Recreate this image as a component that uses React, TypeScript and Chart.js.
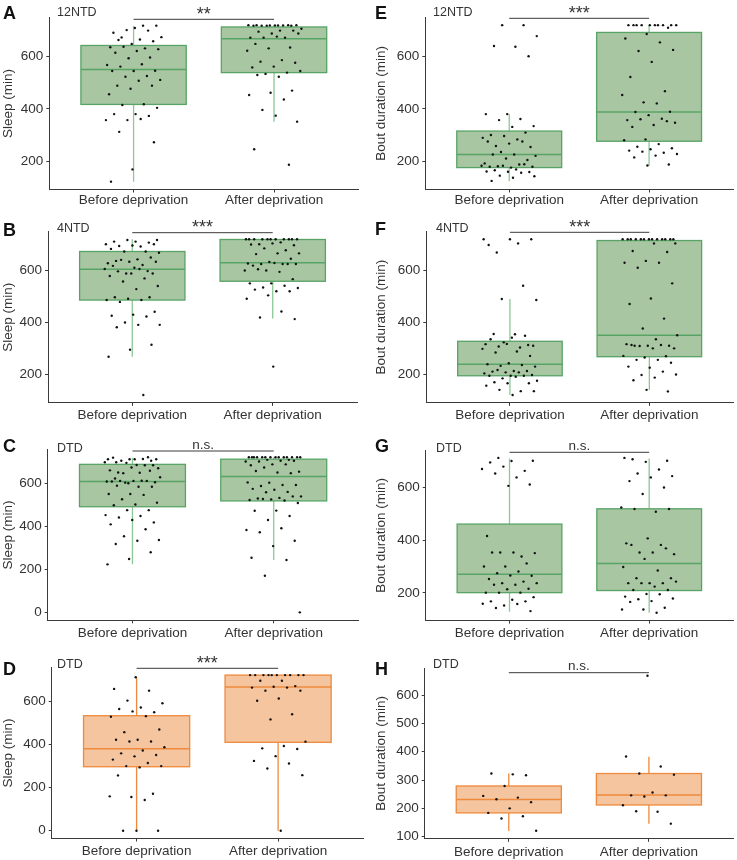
import React, { useEffect, useRef } from "react";
import { Chart, registerables } from "chart.js";

Chart.register(...registerables);

// ---------------- DATA ----------------
const categories = ["Before deprivation", "After deprivation"];
const sleepTitle = "Sleep (min)";
const boutTitle = "Bout duration (min)";

// Panel A – 12NTD, sleep
const aBefore = [719, 674, 719, 710, 692, 700, 702, 675, 666, 664, 659, 649, 636, 632, 638, 629, 622, 615, 597, 594, 568, 571, 562, 546, 545, 545, 526, 523, 511, 508, 489, 489, 477, 456, 418, 415, 404, 380, 380, 373, 357, 357, 361, 312, 272, 168, 121];
const aAfter = [720, 721, 719, 720, 721, 720, 719, 721, 720, 719, 721, 719, 707, 700, 696, 700, 689, 673, 673, 673, 689, 677, 649, 635, 632, 623, 587, 581, 577, 562, 559, 539, 534, 545, 523, 530, 470, 462, 453, 436, 396, 351, 374, 245, 186];
const aBoxBefore = [121, 417, 551, 643, 718]; // min, q1, median, q3, max
const aBoxAfter = [351, 539, 669, 714, 721];

// Panel E – 12NTD, bout duration
const eBefore = [721, 721, 679, 638, 641, 602, 380, 380, 361, 357, 334, 331, 300, 309, 296, 289, 283, 258, 254, 267, 275, 275, 235, 220, 225, 225, 204, 210, 191, 187, 180, 178, 175, 178, 188, 182, 182, 168, 165, 158, 159, 160, 155, 144, 142, 136, 124];
const eAfter = [721, 721, 721, 721, 721, 721, 721, 721, 721, 721, 711, 687, 670, 655, 622, 626, 580, 522, 468, 425, 453, 421, 388, 389, 376, 357, 362, 360, 347, 338, 331, 353, 283, 280, 265, 255, 249, 245, 240, 232, 236, 227, 221, 214, 187, 183];
const eBoxBefore = [123, 175, 225, 315, 380];
const eBoxAfter = [182, 276, 388, 693, 721];

// Panel B – 4NTD, sleep
const bBefore = [716, 710, 710, 706, 716, 700, 691, 693, 700, 695, 682, 672, 672, 667, 642, 636, 649, 633, 627, 620, 640, 633, 610, 617, 597, 588, 605, 605, 596, 588, 588, 578, 569, 557, 540, 528, 497, 497, 491, 486, 486, 479, 441, 430, 426, 423, 400, 391, 391, 382, 315, 296, 269, 122];
const bAfter = [719, 719, 719, 719, 719, 719, 719, 719, 719, 719, 719, 707, 700, 696, 703, 699, 677, 684, 665, 665, 662, 644, 632, 626, 624, 624, 624, 628, 618, 624, 599, 599, 594, 604, 566, 550, 550, 541, 534, 532, 520, 526, 520, 504, 491, 442, 419, 413, 231];
const bBoxBefore = [269, 486, 604, 672, 719];
const bBoxAfter = [415, 558, 629, 718, 719];

// Panel F – 4NTD, bout duration
const fBefore = [719, 703, 668, 719, 719, 697, 541, 490, 486, 355, 356, 314, 318, 317, 304, 308, 311, 342, 336, 349, 324, 299, 289, 285, 272, 244, 240, 237, 234, 231, 214, 212, 214, 209, 205, 209, 218, 199, 196, 196, 196, 186, 177, 192, 171, 167, 167, 158, 137, 142, 137, 122];
const fAfter = [719, 719, 719, 719, 719, 719, 719, 719, 719, 719, 719, 719, 719, 703, 703, 674, 670, 636, 629, 629, 610, 550, 492, 471, 415, 377, 351, 336, 311, 311, 311, 317, 314, 310, 301, 301, 314, 271, 266, 272, 257, 257, 246, 227, 231, 212, 199, 201, 189, 179, 136, 142];
const fBoxBefore = [122, 196, 240, 328, 490];
const fBoxAfter = [141, 269, 351, 714, 719];

// Panel C – DTD, sleep
const cBefore = [698, 705, 712, 712, 713, 705, 712, 712, 719, 721, 695, 698, 649, 650, 684, 673, 660, 684, 647, 670, 685, 622, 658, 600, 608, 612, 611, 605, 611, 608, 611, 603, 628, 584, 589, 584, 550, 550, 546, 526, 510, 501, 498, 475, 475, 452, 448, 441, 418, 429, 409, 386, 354, 336, 333, 318, 279, 248, 223];
const cAfter = [721, 721, 721, 721, 721, 721, 721, 721, 721, 721, 721, 721, 721, 721, 709, 709, 701, 705, 701, 705, 688, 684, 688, 673, 654, 650, 657, 647, 603, 604, 592, 587, 592, 570, 574, 560, 558, 539, 532, 529, 539, 525, 522, 520, 527, 508, 473, 472, 448, 429, 383, 391, 372, 333, 308, 254, 243, 170, 0];
const cBoxBefore = [223, 491, 608, 688, 719];
const cBoxAfter = [243, 518, 631, 712, 721];

// Panel G – DTD, bout duration
const gBefore = [712, 701, 700, 695, 663, 679, 670, 638, 653, 611, 606, 416, 338, 353, 351, 353, 353, 312, 300, 300, 281, 275, 265, 266, 253, 243, 237, 237, 231, 231, 216, 214, 201, 201, 201, 184, 174, 168, 168, 152, 159, 158, 143, 131];
const gAfter = [707, 701, 697, 712, 668, 653, 643, 638, 624, 600, 575, 524, 508, 518, 518, 407, 388, 382, 353, 347, 353, 382, 369, 329, 298, 285, 256, 256, 237, 237, 237, 237, 243, 224, 211, 211, 196, 186, 195, 176, 179, 169, 166, 144, 137, 137, 125];
const gBoxBefore = [129, 201, 271, 461, 710];
const gBoxAfter = [125, 209, 312, 519, 710];

// Panel D – DTD (orange), sleep
const dBefore = [710, 656, 648, 602, 590, 570, 563, 548, 552, 527, 530, 456, 468, 421, 421, 413, 413, 386, 371, 358, 350, 344, 329, 313, 299, 299, 293, 256, 171, 156, 159, 142, 0, 0, 0];
const dAfter = [720, 720, 720, 720, 720, 720, 720, 720, 720, 720, 694, 694, 669, 666, 662, 662, 648, 648, 612, 601, 539, 515, 412, 392, 381, 378, 345, 323, 311, 288, 257, 0];
const dBoxBefore = [0, 296, 379, 532, 708];
const dBoxAfter = [0, 409, 665, 720, 720];

// Panel H – DTD (orange), bout duration
const hBefore = [320, 323, 317, 279, 244, 238, 232, 222, 200, 184, 172, 164, 121];
const hAfter = [668, 383, 348, 323, 319, 256, 246, 246, 242, 211, 188, 190, 146];
const hBoxBefore = [120, 184, 231, 279, 323];
const hBoxAfter = [146, 212, 247, 323, 382];

// Tick labels
const ticks200to600 = [200, 400, 600];
const ticks0to600 = [0, 200, 400, 600];
const ticks100to600 = [100, 200, 300, 400, 500, 600];

// ---------------- STYLE ----------------
const FONT = '"Liberation Sans", Arial, Helvetica, sans-serif';
const TEXT = "#333333";
const AXIS = "#3a3a3a";
const GREEN = { fill: "#a8c6a2", border: "#58a466", whisker: "#8cc898" };
const ORANGE = { fill: "#f4c59f", border: "#ef8a3c", whisker: "#ef8a3c" };

type Scheme = typeof GREEN;
type PanelSpec = {
  key: string;
  letter: string;
  sub: string;
  sig: string;
  title: string;
  before: number[];
  after: number[];
  boxes: number[][];
  ticks: number[];
  yMin: number;
  yMax: number;
  scheme: Scheme;
  // layout (canvas-relative px)
  left: number;
  top: number;
  w: number;
  h: number;
  axisX: number;
  right: number;
  T: number;
  B: number;
  letterX: number;
  letterY: number;
  subX: number;
  subY: number;
  sigY: number;
  titlePad: number;
  labelPad: number;
};

const LEFT = { left: 0, w: 368, letterX: 3, subX: 57, titlePad: 0 };
const RIGHT = { left: 368, w: 369, letterX: 7, subX: 65, titlePad: 5 };

const panels: PanelSpec[] = [
  { key: "A", letter: "A", sub: "12NTD", sig: "**", title: sleepTitle, before: aBefore, after: aAfter, boxes: [aBoxBefore, aBoxAfter], ticks: ticks200to600, yMin: 91, yMax: 751, scheme: GREEN,
    ...LEFT, top: 0, h: 216, axisX: 49.3, right: 358.3, T: 17.3, B: 189.5, letterY: 19, subY: 15.7, sigY: 19.3, labelPad: 0 },
  { key: "E", letter: "E", sub: "12NTD", sig: "***", title: boutTitle, before: eBefore, after: eAfter, boxes: [eBoxBefore, eBoxAfter], ticks: ticks200to600, yMin: 91, yMax: 751, scheme: GREEN,
    ...RIGHT, top: 0, h: 216, axisX: 57.3, right: 368, T: 17.3, B: 189.5, letterY: 18.5, subY: 15.7, sigY: 18.3, labelPad: 0 },
  { key: "B", letter: "B", sub: "4NTD", sig: "***", title: sleepTitle, before: bBefore, after: bAfter, boxes: [bBoxBefore, bBoxAfter], ticks: ticks200to600, yMin: 92, yMax: 749, scheme: GREEN,
    ...LEFT, top: 210, h: 218, axisX: 48, right: 357, T: 21.4, B: 192.9, letterY: 25.5, subY: 21.7, sigY: 22.7, labelPad: 1 },
  { key: "F", letter: "F", sub: "4NTD", sig: "***", title: boutTitle, before: fBefore, after: fAfter, boxes: [fBoxBefore, fBoxAfter], ticks: ticks200to600, yMin: 92, yMax: 749, scheme: GREEN,
    ...RIGHT, top: 210, h: 218, axisX: 58.3, right: 368, T: 21.4, B: 192.9, letterY: 25, subY: 21.7, sigY: 22.3, subX: 68, labelPad: 1 },
  { key: "C", letter: "C", sub: "DTD", sig: "n.s.", title: sleepTitle, before: cBefore, after: cAfter, boxes: [cBoxBefore, cBoxAfter], ticks: ticks0to600, yMin: -37, yMax: 757, scheme: GREEN,
    ...LEFT, top: 420, h: 222, axisX: 47.7, right: 358.5, T: 29.5, B: 200.3, letterY: 31.7, subY: 31.7, sigY: 31, labelPad: 2 },
  { key: "G", letter: "G", sub: "DTD", sig: "n.s.", title: boutTitle, before: gBefore, after: gAfter, boxes: [gBoxBefore, gBoxAfter], ticks: ticks200to600, yMin: 95, yMax: 742, scheme: GREEN,
    ...RIGHT, top: 420, h: 222, axisX: 57.7, right: 368, T: 30, B: 200.6, letterY: 31.7, subY: 31.7, sigY: 32.3, subX: 68, labelPad: 2 },
  { key: "D", letter: "D", sub: "DTD", sig: "***", title: sleepTitle, before: dBefore, after: dAfter, boxes: [dBoxBefore, dBoxAfter], ticks: ticks0to600, yMin: -36, yMax: 756, scheme: ORANGE,
    ...LEFT, top: 640, h: 220, axisX: 51.7, right: 363, T: 27.3, B: 198.5, letterY: 35, subY: 28.3, sigY: 28.3, labelPad: 2 },
  { key: "H", letter: "H", sub: "DTD", sig: "n.s.", title: boutTitle, before: hBefore, after: hAfter, boxes: [hBoxBefore, hBoxAfter], ticks: ticks100to600, yMin: 92.6, yMax: 695.4, scheme: ORANGE,
    ...RIGHT, top: 640, h: 220, axisX: 56.7, right: 368, T: 28, B: 198.8, letterY: 35, subY: 28.3, sigY: 32.7, labelPad: 2 },
];

// deterministic horizontal jitter (presentation only, not data)
function jitter(i: number, seed: number) {
  const v = i * 0.6180339887 + seed * 0.2718281828;
  return (v - Math.floor(v) - 0.5) * 0.4;
}

function makePlugin(p: PanelSpec) {
  return {
    id: "boxes" + p.key,
    beforeDatasetsDraw(chart: any) {
      const { ctx, scales } = chart;
      const xs = scales.x;
      const ys = scales.y;
      p.boxes.forEach((b, k) => {
        const cx = k + 1;
        const [mn, q1, md, q3, mx] = b;
        const xl = xs.getPixelForValue(cx - 0.375);
        const xr = xs.getPixelForValue(cx + 0.375);
        const xc = xs.getPixelForValue(cx);
        ctx.save();
        ctx.lineWidth = 1.3;
        ctx.strokeStyle = p.scheme.whisker;
        ctx.beginPath();
        ctx.moveTo(xc, ys.getPixelForValue(mx));
        ctx.lineTo(xc, ys.getPixelForValue(q3));
        ctx.moveTo(xc, ys.getPixelForValue(q1));
        ctx.lineTo(xc, ys.getPixelForValue(mn));
        ctx.stroke();
        const yt = ys.getPixelForValue(q3);
        const yb = ys.getPixelForValue(q1);
        ctx.fillStyle = p.scheme.fill;
        ctx.fillRect(xl, yt, xr - xl, yb - yt);
        ctx.strokeStyle = p.scheme.border;
        ctx.strokeRect(xl, yt, xr - xl, yb - yt);
        ctx.lineWidth = 1.5;
        ctx.beginPath();
        const ym = ys.getPixelForValue(md);
        ctx.moveTo(xl, ym);
        ctx.lineTo(xr, ym);
        ctx.stroke();
        ctx.restore();
      });
    },
    afterDraw(chart: any) {
      const { ctx, scales } = chart;
      const xs = scales.x;
      ctx.save();
      ctx.fillStyle = "#111";
      ctx.textBaseline = "alphabetic";
      ctx.textAlign = "left";
      ctx.font = `bold 18px ${FONT}`;
      ctx.fillText(p.letter, p.letterX, p.letterY);
      ctx.fillStyle = TEXT;
      ctx.font = `12.5px ${FONT}`;
      ctx.fillText(p.sub, p.subX, p.subY);
      // significance bar
      const x1 = xs.getPixelForValue(1);
      const x2 = xs.getPixelForValue(2);
      ctx.strokeStyle = AXIS;
      ctx.lineWidth = 1;
      ctx.beginPath();
      ctx.moveTo(x1, p.sigY);
      ctx.lineTo(x2, p.sigY);
      ctx.stroke();
      ctx.textAlign = "center";
      const stars = p.sig.indexOf("*") >= 0;
      ctx.font = stars ? `18px ${FONT}` : `13.5px ${FONT}`;
      ctx.fillText(p.sig, (x1 + x2) / 2, stars ? p.sigY + 0.5 : p.sigY - 2.5);
      ctx.restore();
    },
  };
}

function PanelChart({ p }: { p: PanelSpec }) {
  const ref = useRef<HTMLCanvasElement | null>(null);
  useEffect(() => {
    if (!ref.current) return;
    const pts = (vals: number[], c: number, seed: number) =>
      vals.map((v, i) => ({ x: c + jitter(i, seed), y: v }));
    const chart = new Chart(ref.current, {
      type: "scatter",
      data: {
        datasets: [
          { data: pts(p.before, 1, p.key.charCodeAt(0)), pointRadius: 1.2, pointBackgroundColor: "#111", pointBorderWidth: 0, borderWidth: 0 },
          { data: pts(p.after, 2, p.key.charCodeAt(0) + 7), pointRadius: 1.2, pointBackgroundColor: "#111", pointBorderWidth: 0, borderWidth: 0 },
        ],
      },
      options: {
        animation: false,
        responsive: false,
        maintainAspectRatio: false,
        devicePixelRatio: 1,
        events: [],
        layout: { padding: { left: 0, top: p.T, right: p.w - p.right, bottom: 0 } },
        plugins: { legend: { display: false }, tooltip: { enabled: false }, title: { display: false } },
        scales: {
          x: {
            type: "linear",
            min: 0.4,
            max: 2.6,
            afterBuildTicks: (s: any) => {
              s.ticks = [{ value: 1 }, { value: 2 }];
            },
            afterFit: (s: any) => {
              s.height = p.h - p.B;
            },
            ticks: {
              autoSkip: false,
              maxRotation: 0,
              padding: p.labelPad,
              color: TEXT,
              font: { family: FONT, size: 13.5 },
              callback: (_v: any, i: number) => categories[i],
            },
            grid: { drawOnChartArea: false, drawTicks: true, tickLength: 3, color: AXIS, lineWidth: 1 },
            border: { display: true, color: AXIS, width: 1 },
          },
          y: {
            type: "linear",
            min: p.yMin,
            max: p.yMax,
            afterBuildTicks: (s: any) => {
              s.ticks = p.ticks.map((v) => ({ value: v }));
            },
            afterFit: (s: any) => {
              s.width = p.axisX;
            },
            ticks: { padding: 3, color: TEXT, font: { family: FONT, size: 13.5 } },
            grid: { drawOnChartArea: false, drawTicks: true, tickLength: 3, color: AXIS, lineWidth: 1 },
            border: { display: true, color: AXIS, width: 1 },
            title: { display: true, text: p.title, color: TEXT, font: { family: FONT, size: 13.5 }, padding: { top: p.titlePad, bottom: 0 } },
          },
        },
      },
      plugins: [makePlugin(p)],
    } as any);
    return () => chart.destroy();
  }, [p]);
  return (
    <canvas
      ref={ref}
      width={p.w}
      height={p.h}
      style={{ position: "absolute", left: p.left, top: p.top, width: p.w, height: p.h }}
    />
  );
}

export default function App() {
  return (
    <div style={{ position: "absolute", left: 0, top: 0, width: 737, height: 860, background: "#ffffff", overflow: "hidden" }}>
      {panels.map((p) => (
        <PanelChart key={p.key} p={p} />
      ))}
    </div>
  );
}
